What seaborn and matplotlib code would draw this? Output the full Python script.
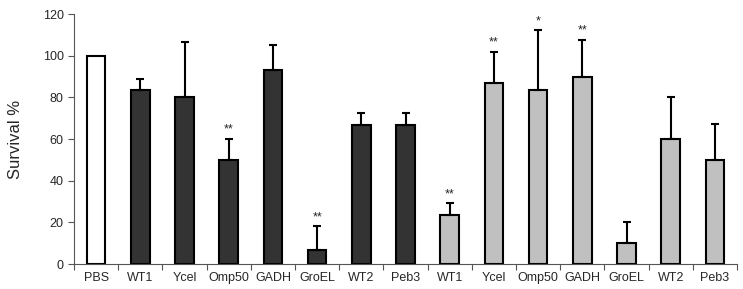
import matplotlib
matplotlib.use("Agg")
import matplotlib.pyplot as plt
import seaborn as sns
import numpy as np
import pandas as pd
from matplotlib.ticker import FixedLocator

labels = ["PBS", "WT1", "Ycel", "Omp50", "GADH", "GroEL", "WT2", "Peb3",
          "WT1", "Ycel", "Omp50", "GADH", "GroEL", "WT2", "Peb3"]
groups = ["pbs"] + ["dark"] * 7 + ["light"] * 7
values = [100, 83.3, 80, 50, 93.3, 6.7, 66.7, 66.7,
          23.3, 86.7, 83.3, 90, 10, 60, 50]
err_top = [100, 89, 106.5, 60, 105.2, 18.2, 72.6, 72.6,
           29.2, 102, 112.2, 107.5, 20, 80.2, 67.3]
stars = ["", "", "", "**", "", "**", "", "", "**", "**", "*", "**", "", "", ""]

colors = {"pbs": "#ffffff", "dark": "#333333", "light": "#c0c0c0"}

sns.set_style("white")
plt.rcParams['font.family'] = ['Liberation Sans', 'DejaVu Sans']

df = pd.DataFrame({"pos": [str(i) for i in range(len(values))],
                   "value": values, "group": groups})
palette = [colors[g] for g in groups]

fig = plt.figure(figsize=(7.43, 2.89), dpi=100)
ax = fig.add_axes([0.0996, 0.0865, 0.8924, 0.865])
sns.barplot(data=df, x="pos", y="value", hue="pos", palette=palette,
            legend=False, width=0.42, edgecolor="black", linewidth=1.5,
            saturation=1, ax=ax)

x = np.arange(len(values))
up = np.array(err_top) - np.array(values)
mask = up > 0
ax.errorbar(x[mask], np.array(values)[mask],
            yerr=[np.zeros(mask.sum()), up[mask]], fmt="none",
            ecolor="black", elinewidth=1.5, capsize=3, capthick=1.5)
for xi, et, s in zip(x, err_top, stars):
    if s:
        ax.text(xi, et + 1.5, s, ha="center", va="bottom", fontsize=9)

ax.set_xlim(-0.5, len(values) - 0.5)
ax.set_ylim(0, 120)
ax.set_yticks(range(0, 121, 20))
ax.set_xticks(x)
ax.set_xticklabels(labels, fontsize=9)
ax.xaxis.set_minor_locator(FixedLocator(np.arange(-0.5, len(values), 1)))
ax.tick_params(axis="x", which="major", length=0, pad=6)
ax.tick_params(axis="x", which="minor", length=4, width=0.8, color="#555555", direction="out", bottom=True)
ax.tick_params(axis="y", length=4, width=0.8, color="#555555", direction="out", left=True, labelsize=9)
ax.set_xlabel("")
ax.set_ylabel("Survival %", fontsize=12, labelpad=14)
for sp in ["top", "right"]:
    ax.spines[sp].set_visible(False)
for sp in ["left", "bottom"]:
    ax.spines[sp].set_color("#555555")
    ax.spines[sp].set_linewidth(0.8)

fig.savefig("out.png", dpi=100)
